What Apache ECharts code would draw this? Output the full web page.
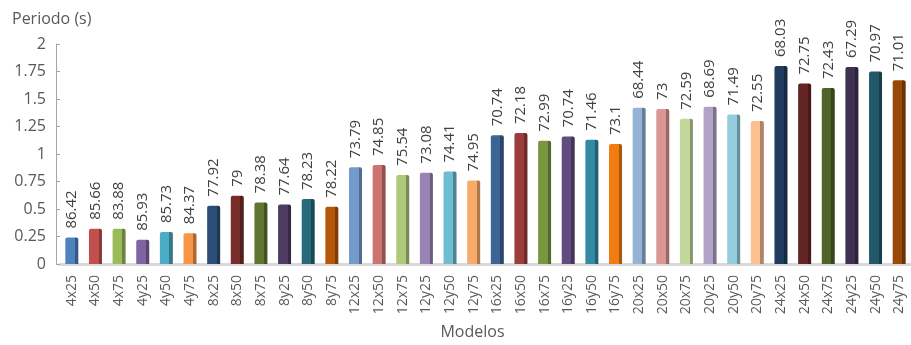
<!DOCTYPE html>
<html>
<head>
<meta charset="utf-8">
<script src="https://cdn.jsdelivr.net/npm/echarts@6/dist/echarts.min.js"></script>
<style>
  html, body { margin: 0; padding: 0; background: #fff; }
  #chart { width: 911px; height: 345px; }
</style>
</head>
<body>
<div id="chart"></div>
<script>
// Model names (rotated category labels)
const modelos = [
  '4x25','4x50','4x75','4y25','4y50','4y75',
  '8x25','8x50','8x75','8y25','8y50','8y75',
  '12x25','12x50','12x75','12y25','12y50','12y75',
  '16x25','16x50','16x75','16y25','16y50','16y75',
  '20x25','20x50','20x75','20y25','20y50','20y75',
  '24x25','24x50','24x75','24y25','24y50','24y75'
];

// Fundamental period of each model, in seconds
const periodos = [
  0.24, 0.32, 0.32, 0.22, 0.29, 0.28,
  0.53, 0.62, 0.56, 0.54, 0.59, 0.52,
  0.88, 0.90, 0.81, 0.83, 0.84, 0.76,
  1.17, 1.19, 1.12, 1.16, 1.13, 1.09,
  1.42, 1.41, 1.32, 1.43, 1.36, 1.30,
  1.80, 1.64, 1.60, 1.79, 1.75, 1.67
];

// Value printed above each bar
const etiquetas = [
  86.42, 85.66, 83.88, 85.93, 85.73, 84.37,
  77.92, 79, 78.38, 77.64, 78.23, 78.22,
  73.79, 74.85, 75.54, 73.08, 74.41, 74.95,
  70.74, 72.18, 72.99, 70.74, 71.46, 73.1,
  68.44, 73, 72.59, 68.69, 71.49, 72.55,
  68.03, 72.75, 72.43, 67.29, 70.97, 71.01
];

// Bar colours, one row of six per model size
const colores = [
  '#4F81BD','#C0504D','#9BBB59','#8064A2','#4BACC6','#F79646',
  '#2C4D75','#772C2A','#5F7530','#4D3B62','#276A7C','#B65708',
  '#729ACA','#CD7371','#AFC97A','#9983B5','#6FBDD1','#F9AB6B',
  '#3A6595','#9B3D3A','#7A9640','#624B7F','#328BA3','#F07C12',
  '#95B3D7','#D99694','#C3D69B','#B3A2C7','#93CDDD','#FAC090',
  '#1F3B5E','#632523','#4F6228','#3F3151','#215968','#984807'
];

function shade(hex, f) {
  const n = parseInt(hex.slice(1), 16);
  const r = Math.round(((n >> 16) & 255) * f);
  const g = Math.round(((n >> 8) & 255) * f);
  const b = Math.round((n & 255) * f);
  return 'rgb(' + r + ',' + g + ',' + b + ')';
}

// Front face plus a darker right side to give the bars some depth
const datos = periodos.map((v, i) => ({
  value: v,
  itemStyle: {
    color: {
      type: 'linear', x: 0, y: 0, x2: 1, y2: 0,
      colorStops: [
        { offset: 0, color: colores[i] },
        { offset: 0.74, color: colores[i] },
        { offset: 0.74, color: shade(colores[i], 0.7) },
        { offset: 1, color: shade(colores[i], 0.7) }
      ]
    }
  }
}));

const chart = echarts.init(document.getElementById('chart'));
chart.setOption({
  animation: false,
  textStyle: { fontFamily: 'Open Sans' },
  grid: { left: 60, right: -4, top: 44, bottom: 80, containLabel: false },
  xAxis: {
    type: 'category',
    data: modelos,
    name: 'Modelos',
    nameLocation: 'middle',
    nameGap: 60,
    nameTextStyle: { color: '#595959', fontSize: 16, padding: [0, 26, 0, 0] },
    axisLine: { lineStyle: { color: '#D9D9D9', width: 3 } },
    axisTick: { show: false },
    axisLabel: { rotate: 90, color: '#595959', fontSize: 14, margin: 11, interval: 0 }
  },
  yAxis: {
    type: 'value',
    min: 0, max: 2, interval: 0.25,
    offset: 4,
    name: 'Periodo (s)',
    nameLocation: 'end',
    nameGap: 17,
    nameTextStyle: { color: '#595959', fontSize: 16, align: 'left', padding: [0, 0, 0, -44] },
    axisLine: { show: true, lineStyle: { color: '#A6A6A6', width: 1 } },
    axisTick: { show: true, inside: true, length: 4, lineStyle: { color: '#A6A6A6' } },
    axisLabel: { color: '#595959', fontSize: 16, margin: 10 },
    splitLine: { show: false }
  },
  series: [{
    type: 'bar',
    data: datos,
    barWidth: 13,
    itemStyle: { borderRadius: [2, 2, 0, 0] },
    label: {
      show: true,
      position: 'top',
      rotate: 90,
      align: 'left',
      verticalAlign: 'middle',
      distance: 9,
      color: '#404040',
      fontSize: 15,
      formatter: p => String(etiquetas[p.dataIndex])
    }
  }]
});
</script>
</body>
</html>
